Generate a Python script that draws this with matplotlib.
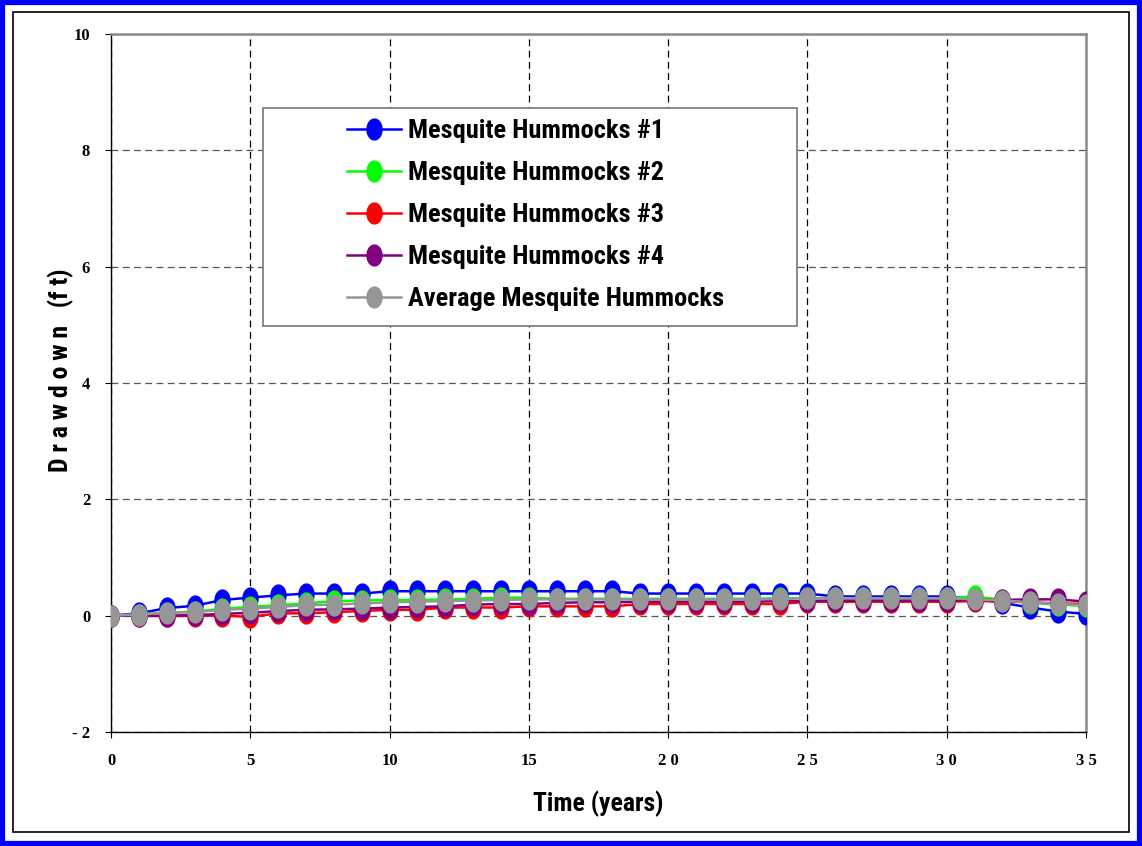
import matplotlib
matplotlib.use("Agg")
import matplotlib.pyplot as plt
import numpy as np
from matplotlib import font_manager
from matplotlib.path import Path
from matplotlib.patches import Rectangle

years = list(range(36))

mh1 = [0.00, 0.04, 0.13, 0.17, 0.27, 0.31, 0.35, 0.38, 0.38, 0.38, 0.42, 0.42,
       0.42, 0.42, 0.42, 0.42, 0.42, 0.42, 0.42, 0.38, 0.38, 0.38, 0.38, 0.38,
       0.38, 0.38, 0.33, 0.33, 0.33, 0.33, 0.33, 0.29, 0.22, 0.14, 0.07, 0.03]
mh2 = [0.00, 0.02, 0.05, 0.07, 0.12, 0.15, 0.18, 0.21, 0.25, 0.26, 0.27, 0.27,
       0.28, 0.29, 0.31, 0.31, 0.29, 0.29, 0.29, 0.29, 0.29, 0.29, 0.29, 0.29,
       0.30, 0.30, 0.30, 0.30, 0.30, 0.30, 0.30, 0.33, 0.27, 0.22, 0.19, 0.17]
mh3 = [0.00, 0.00, -0.01, 0.00, 0.00, -0.02, 0.04, 0.04, 0.06, 0.08, 0.10, 0.10,
       0.14, 0.14, 0.14, 0.16, 0.16, 0.16, 0.16, 0.20, 0.20, 0.20, 0.20, 0.20,
       0.20, 0.24, 0.24, 0.24, 0.24, 0.24, 0.24, 0.25, 0.25, 0.23, 0.21, 0.20]
mh4 = [0.00, 0.00, 0.00, 0.01, 0.03, 0.05, 0.08, 0.10, 0.11, 0.12, 0.14, 0.15,
       0.16, 0.19, 0.20, 0.20, 0.22, 0.23, 0.23, 0.24, 0.24, 0.24, 0.24, 0.24,
       0.25, 0.25, 0.26, 0.26, 0.26, 0.26, 0.26, 0.27, 0.27, 0.28, 0.28, 0.24]
avg = [0.00, 0.02, 0.05, 0.06, 0.10, 0.12, 0.15, 0.18, 0.19, 0.21, 0.23, 0.24,
       0.25, 0.26, 0.27, 0.28, 0.28, 0.28, 0.28, 0.28, 0.28, 0.28, 0.28, 0.28,
       0.29, 0.30, 0.30, 0.30, 0.30, 0.30, 0.30, 0.28, 0.26, 0.23, 0.20, 0.18]

series = [mh1, mh2, mh3, mh4, avg]
names = ["Mesquite Hummocks #1", "Mesquite Hummocks #2", "Mesquite Hummocks #3",
         "Mesquite Hummocks #4", "Average Mesquite Hummocks"]
colors = ["#0000ff", "#00ff00", "#ff0000", "#800080", "#969696"]

xticks = [0, 5, 10, 15, 20, 25, 30, 35]
xtick_labels = ["0", "5", "10", "15", "2 0", "2 5", "3 0", "3 5"]
yticks = [-2, 0, 2, 4, 6, 8, 10]
ytick_labels = ["- 2", "0", "2", "4", "6", "8", "10"]

# pick a narrow sans if one is around
installed = {f.name for f in font_manager.fontManager.ttflist}
SANS = next((n for n in ["Liberation Sans Narrow", "DejaVu Sans Condensed",
                         "Roboto Condensed", "Open Sans Condensed"]
             if n in installed), "Liberation Sans")
SERIF = "Liberation Serif"

W, H = 1142, 846
AX_L, AX_R, AX_T, AX_B = 111, 1086, 34, 732
AW, AH = AX_R - AX_L, AX_B - AX_T

# tall ellipse marker
t = np.linspace(0, 2 * np.pi, 60)
ellipse = Path(np.column_stack([0.72 * np.cos(t), np.sin(t)]), closed=True)

fig = plt.figure(figsize=(W / 100, H / 100), dpi=100)
ax = fig.add_axes([AX_L / W, 1 - AX_B / H, AW / W, AH / H])

# outer frames
fig.patches.append(Rectangle((0.002, 0.002), 0.996, 0.996, transform=fig.transFigure,
                             fill=False, edgecolor="#0000ff", linewidth=4.5))
fig.patches.append(Rectangle((13 / W, 1 - 832 / H), 1116 / W, 820 / H,
                             transform=fig.transFigure, fill=False,
                             edgecolor="black", linewidth=1.2))

for ys, name, c in zip(series, names, colors):
    ax.plot(years, ys, color=c, lw=1.8, marker=ellipse, markersize=15,
            markerfacecolor=c, markeredgecolor=c, label=name, zorder=3)

ax.set_xlim(0, 35)
ax.set_ylim(-2, 10)
ax.set_xticks(xticks)
ax.set_xticklabels(xtick_labels, fontfamily=SERIF, fontweight="bold", fontsize=12)
ax.set_yticks(yticks)
ax.set_yticklabels(ytick_labels, fontfamily=SERIF, fontweight="bold", fontsize=12)
ax.tick_params(axis="x", direction="out", length=4, pad=11)
ax.tick_params(axis="y", direction="out", length=4, pad=11)

ax.xaxis.grid(True, color="black", linestyle=(0, (5.5, 3.5)), lw=0.9)
ax.yaxis.grid(True, color="#555555", linestyle=(0, (5.5, 3.5)), lw=0.9)
ax.set_axisbelow(True)

for s in ("top", "right"):
    ax.spines[s].set_color("#8a8a8a")
    ax.spines[s].set_linewidth(1.8)
for s in ("left", "bottom"):
    ax.spines[s].set_color("black")
    ax.spines[s].set_linewidth(1.0)

ax.set_xlabel("Time (years)", fontfamily=SANS, fontweight="bold", fontsize=18.5,
              labelpad=16)
ax.set_ylabel("D r a w d o w n   (f t)", fontfamily=SANS, fontweight="bold",
              fontsize=18.5)
ax.yaxis.set_label_coords((74 - AX_L) / AW, 1 - (370 - AX_T) / AH)

# legend box drawn separately so the entries can sit off-centre inside it
ax.add_patch(Rectangle(((263 - AX_L) / AW, 1 - (326 - AX_T) / AH),
                       (797 - 263) / AW, (326 - 108) / AH, transform=ax.transAxes,
                       facecolor="white", edgecolor="#777777", lw=1.2, zorder=4))
leg = ax.legend(loc="upper left",
                bbox_to_anchor=((347 - AX_L) / AW, 1 - (119 - AX_T) / AH),
                prop={"family": SANS, "weight": "bold", "size": 19},
                frameon=False, handlelength=2.05, handletextpad=0.28,
                labelspacing=0.68, borderpad=0, borderaxespad=0)
leg.set_zorder(5)

fig.savefig("out.png", dpi=100)
